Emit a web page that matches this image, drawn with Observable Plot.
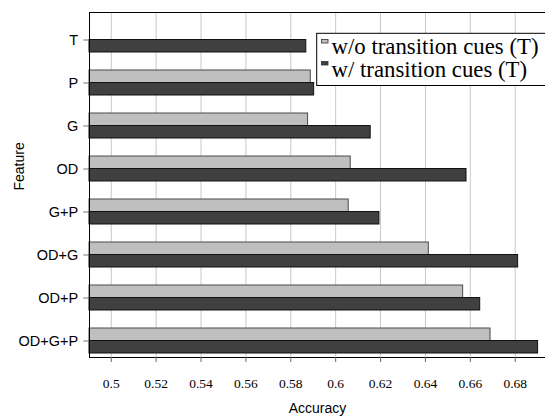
<!DOCTYPE html>
<html>
<head>
<meta charset="utf-8">
<script src="https://cdn.jsdelivr.net/npm/d3@7"></script>
<script src="https://cdn.jsdelivr.net/npm/@observablehq/plot@0.6"></script>
<style>
  html, body { margin: 0; padding: 0; background: #fff; }
  #chart svg { display: block; }
</style>
</head>
<body>
<div id="chart"></div>
<script>
// ---- data ----
const features = ["T", "P", "G", "OD", "G+P", "OD+G", "OD+P", "OD+G+P"];
const withoutT = [null, 0.5889, 0.5877, 0.6067, 0.6058, 0.6415, 0.6568, 0.6690];
const withT    = [0.5869, 0.5904, 0.6156, 0.6583, 0.6195, 0.6813, 0.6644, 0.6902];
const xTicks   = [0.5, 0.52, 0.54, 0.56, 0.58, 0.6, 0.62, 0.64, 0.66, 0.68];
const seriesNames = ["w/o transition cues (T)", "w/ transition cues (T)"];

const xMin = 0.4903, xMax = 0.6935;

const rowsWithout = features.map((f, i) => ({feature: f, value: withoutT[i]})).filter(d => d.value != null);
const rowsWith = features.map((f, i) => ({feature: f, value: withT[i]}));

const serif = "'Liberation Serif', 'DejaVu Serif', serif";
const sans = "'Liberation Sans', Arial, sans-serif";

const chart = Plot.plot({
  width: 545,
  height: 416,
  marginTop: 12,
  marginBottom: 59,
  marginLeft: 89,
  marginRight: 0,
  style: {fontFamily: sans, fontSize: "14px", background: "#fff", color: "#000"},
  x: {domain: [xMin, xMax]},
  y: {domain: features, range: [14.8, 365.2], paddingInner: 0.43, paddingOuter: 0.215},
  marks: [
    Plot.gridX(xTicks, {stroke: "#c8c8c8", strokeOpacity: 1, strokeWidth: 1}),
    Plot.barX(rowsWithout, {x1: xMin, x2: "value", y: "feature", insetBottom: 12.5,
      fill: "#bfbfbf", stroke: "#4a4a4a", strokeWidth: 1}),
    Plot.barX(rowsWith, {x1: xMin, x2: "value", y: "feature", insetTop: 12.5,
      fill: "#404040", stroke: "#111", strokeWidth: 1}),
    Plot.frame({stroke: "#000", strokeWidth: 1, insetRight: -3}),
    Plot.axisX({ticks: xTicks, tickFormat: d3.format("~g"), tickSize: 5, tickPadding: 16,
      fontFamily: serif, fontSize: 13.5, stroke: "#666", fill: "#000", label: null}),
    Plot.axisY({tickSize: 5.7, tickPadding: 5.6, stroke: "#777", fill: "#000", fontSize: 14.5, label: null}),
    Plot.text(["Accuracy"], {frameAnchor: "bottom", dy: 51, fontSize: 14, fill: "#000", lineAnchor: "middle"}),
    Plot.text(["Feature"], {frameAnchor: "left", dx: -69.5, dy: 5.5, rotate: -90, fontSize: 14, fill: "#000", lineAnchor: "middle"})
  ]
});

// legend
const lg = d3.select(chart).append("g").attr("class", "legend")
  .style("font-family", serif).style("text-anchor", "start");
lg.append("rect").attr("x", 316.7).attr("y", 33.3).attr("width", 240).attr("height", 52.2)
  .attr("fill", "#fff").attr("stroke", "#000").attr("stroke-width", 1);
const swatchFill = ["#bfbfbf", "#404040"];
seriesNames.forEach((name, i) => {
  lg.append("rect").attr("x", 321.5).attr("y", 39.5 + i * 22).attr("width", 6.5).attr("height", 3.5)
    .attr("fill", swatchFill[i]).attr("stroke", "#333").attr("stroke-width", 0.8);
  lg.append("text").attr("x", 331.5).attr("y", 53.5 + i * 23.5)
    .style("text-anchor", "start")
    .style("font-family", serif).style("font-size", "22.8px").attr("fill", "#000")
    .text(name);
});

document.getElementById("chart").appendChild(chart);
</script>
</body>
</html>
